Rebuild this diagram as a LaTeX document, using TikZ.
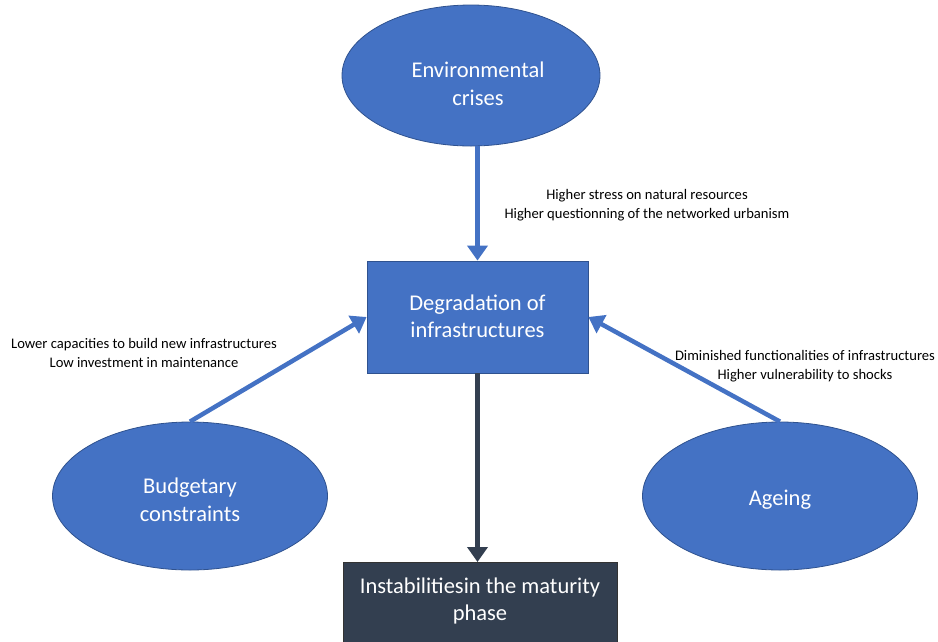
\documentclass[tikz,border=0pt]{standalone}
\usepackage{fontspec}
\setmainfont{Carlito}
\usetikzlibrary{shapes.geometric,arrows.meta}
\definecolor{accblue}{HTML}{4472C4}
\definecolor{accborder}{HTML}{2F528F}
\definecolor{darkslate}{HTML}{333F50}
\begin{document}
\begin{tikzpicture}[x=1pt,y=-1pt,
  blueell/.style={ellipse, draw=accborder, line width=0.8pt, fill=accblue, inner sep=0pt},
  bluebox/.style={rectangle, draw=accborder, line width=0.8pt, fill=accblue, inner sep=0pt},
  darkbox/.style={rectangle, draw=black!80, line width=0.8pt, fill=darkslate, inner sep=0pt},
  wtext/.style={text=white, font=\fontsize{22.5}{27.5}\selectfont, align=center},
  lbl/.style={font=\fontsize{14.6}{18.5}\selectfont, align=center, text=black},
  bluearrow/.style={draw=accblue, line width=4.5pt, -{Triangle[length=15pt,width=20pt]}},
  darkarrow/.style={draw=darkslate, line width=4.5pt, -{Triangle[length=15pt,width=20pt]}}]
\useasboundingbox (0,0) rectangle (938,641);
\node[blueell, minimum width=258, minimum height=141] (env) at (471,75.5) {};
\node[wtext] (envtxt) at (478,84) {Environmental\\crises};
\node[bluebox, minimum width=221, minimum height=112] (deg) at (477.5,317) {};
\node[wtext] (degtxt) at (477.5,316.5) {Degradation of\\infrastructures};
\node[blueell, minimum width=275, minimum height=148] (bud) at (190,496) {};
\node[wtext] (budtxt) at (190,500) {Budgetary\\constraints};
\node[blueell, minimum width=275, minimum height=148] (age) at (780,496) {};
\node[wtext] (agetxt) at (780,500) {Ageing};
\node[darkbox, minimum width=274, minimum height=100, anchor=north] (inst) at (480,562) {};
\node[wtext] (insttxt) at (480,601) {Instabilitiesin the maturity\\phase};
\draw[bluearrow] (env.south -| deg.north) -- (deg.north);
\draw[bluearrow] (bud.north) -- (deg.west);
\draw[bluearrow] (age.north) -- (deg.east);
\draw[darkarrow] (deg.south) -- (deg.south |- inst.north);
\node[lbl] (l1) at (647,205) {Higher stress on natural resources\\Higher questionning of the networked urbanism};
\node[lbl] (l2) at (144,353) {Lower capacities to build new infrastructures\\Low investment in maintenance};
\node[lbl] (l3) at (805,366) {Diminished functionalities of infrastructures\\Higher vulnerability to shocks};
\end{tikzpicture}
\end{document}
